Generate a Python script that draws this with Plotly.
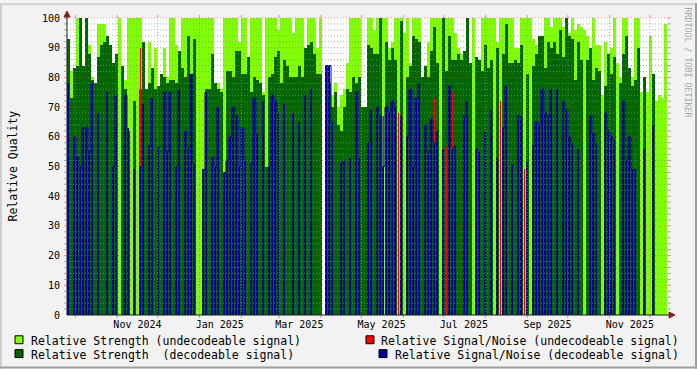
import plotly.graph_objects as go
import pandas as pd

# ---- data (one value per 3-px time bucket) ----
LG = [84,82,83,100,100,84,90,91,80,78,98,98,98,94,91,85,88,100,84,79,100,100,100,100,100,92,76,92,83,90,77,81,90,
      80,100,100,91,84,100,100,100,100,100,100,100,100,100,100,100,78,78,76,100,100,100,100,100,92,100,100,86,100,100,100,100,75,
      100,100,100,100,96,100,100,100,100,95,100,100,100,87,100,100,100,90,100,0,80,78,74,78,70,74,76,85,100,100,100,100,70,70,
      100,100,96,100,100,100,100,90,92,100,100,100,95,100,85,100,100,100,80,82,92,100,100,100,100,100,100,100,100,95,90,88,85,
      90,84,100,75,75,100,100,100,100,100,92,100,100,100,100,100,90,90,100,100,100,100,93,91,91,91,100,100,97,100,100,100,97,
      100,95,100,96,98,97,96,94,89,100,91,91,74,92,88,90,100,85,80,100,100,83,80,100,100,75,76,75,94,78,72,74,73,98]
DG = [93,73,83,84,100,84,100,88,79,78,87,91,92,94,91,85,88,0,84,76,62,0,72,0,76,92,76,78,83,76,77,81,80,
      78,79,79,78,89,83,80,94,81,93,0,0,49,76,76,88,78,76,75,48,82,82,80,89,89,81,81,87,75,80,79,78,74,
      50,80,81,87,89,78,86,84,80,80,80,84,80,90,91,92,88,81,81,0,84,78,70,75,64,62,70,76,75,80,78,80,70,70,
      91,90,88,88,100,0,92,86,90,86,0,99,0,80,84,94,93,92,80,84,80,89,97,85,0,100,82,94,86,86,88,86,89,
      100,85,0,87,86,82,91,83,86,0,90,0,88,98,85,85,86,85,91,0,81,0,84,88,94,94,83,92,90,92,88,96,87,
      100,94,93,79,92,86,0,86,90,79,83,82,0,77,88,81,87,0,78,88,94,83,77,79,90,0,80,0,0,81,0,0,0,0]
BL = [78,0,60,53,50,63,63,55,78,0,68,0,0,75,0,50,74,0,0,74,63,0,49,0,50,71,0,57,73,0,57,0,75,
      55,75,0,50,76,0,62,56,81,51,0,0,49,75,0,53,50,70,0,48,52,60,70,67,50,63,52,0,51,73,61,0,72,
      0,50,74,72,68,0,71,0,0,68,0,65,0,74,0,76,0,0,0,0,84,84,65,0,0,51,52,0,53,0,75,53,0,0,
      58,69,0,70,67,50,70,68,72,70,0,67,0,60,76,50,73,78,0,64,55,66,58,62,0,56,0,77,56,57,0,0,67,
      72,0,0,56,55,0,62,0,69,0,53,0,63,77,0,51,0,67,67,0,52,0,57,65,64,76,68,67,76,0,76,0,72,
      69,60,58,0,56,0,0,0,67,61,58,0,0,68,62,60,59,0,0,72,52,60,49,49,0,0,56,0,0,64,0,0,0,0]
RD_COLS = [24, 105, 110, 122, 126, 128, 144, 152, 189]
RD_VALS = [90, 67, 68, 73, 57, 75, 72, 49, 56]

X_TICK_TEXT = ["Nov 2024", "Jan 2025", "Mar 2025", "May 2025", "Jul 2025", "Sep 2025", "Nov 2025"]
X_TICK_DATES = ["2024-11-16", "2025-01-16", "2025-03-16", "2025-05-16", "2025-07-16", "2025-09-16", "2025-11-16"]
Y_TICKS = list(range(0, 101, 10))

# ---- geometry ----
W, H = 697, 369
L, R, T, B = 67, 668, 15, 315
PXD = 1.349                        # pixels per day
ANCHOR = pd.Timestamp("2025-01-01")  # at pixel 199.5
def px2date(px):
    return ANCHOR + pd.Timedelta(days=(px - 199.5) / PXD)
def xp(px):
    return (px - L) / (R - L)
def yp(py):
    return (B - py) / (B - T)

N = len(LG)
STEP = 3 / PXD
xs = [px2date(L + 3 * k + 1.5) for k in range(N)]
xedge = [px2date(L + 3 * k) for k in range(N)] + [px2date(L + 3 * N)]
DAY_MS = 86400000
col_w = STEP * DAY_MS
thin_w = (1.5 / PXD) * DAY_MS
red_w = (1.0 / PXD) * DAY_MS

RD = [0] * N
for c, v in zip(RD_COLS, RD_VALS):
    RD[c] = v

def nz(a):
    return [v if v else None for v in a]

fig = go.Figure()
fig.add_trace(go.Bar(x=xs, y=nz(LG), width=col_w, marker=dict(color="#80FF00", line=dict(width=0)),
                     showlegend=False, hoverinfo="skip"))
fig.add_trace(go.Bar(x=xs, y=nz(DG), width=col_w, marker=dict(color="#006600", line=dict(width=0)),
                     showlegend=False, hoverinfo="skip"))
fig.add_trace(go.Bar(x=xs, y=nz(RD), width=red_w, marker=dict(color="#FF0000", line=dict(width=0)),
                     showlegend=False, hoverinfo="skip"))
fig.add_trace(go.Bar(x=xs, y=nz(BL), width=thin_w, marker=dict(color="#000099", line=dict(width=0)),
                     showlegend=False, hoverinfo="skip"))
# blue signal/noise outline (step line across consecutive buckets)
bl_line = nz(BL) + [None]
fig.add_trace(go.Scatter(x=xedge, y=bl_line, mode="lines", line=dict(color="#000099", width=1, shape="hv"),
                         connectgaps=False, showlegend=False, hoverinfo="skip"))

shapes = []
GRID = "rgba(143,143,143,0.75)"
MGRID = "rgba(222,79,79,0.6)"
DASH = "1px,2px"
for v in range(2, 101, 2):
    major = (v % 10 == 0)
    c = MGRID if major else GRID
    y = v / 100
    shapes.append(dict(type="line", xref="paper", yref="paper", x0=0, x1=1, y0=y, y1=y,
                       line=dict(color=c, width=1, dash=DASH), layer="above"))
    shapes.append(dict(type="line", xref="paper", yref="paper", x0=xp(64), x1=xp(67), y0=y, y1=y,
                       line=dict(color=c, width=1), layer="above"))
    shapes.append(dict(type="line", xref="paper", yref="paper", x0=xp(668), x1=xp(671), y0=y, y1=y,
                       line=dict(color=c, width=1), layer="above"))
months = pd.date_range("2024-10-01", "2025-12-01", freq="MS")
for m in months:
    major = m.month in (1, 4, 7, 10)
    c = MGRID if major else GRID
    shapes.append(dict(type="line", xref="x", yref="paper", x0=m, x1=m, y0=0, y1=1,
                       line=dict(color=c, width=1, dash=DASH), layer="above"))
    shapes.append(dict(type="line", xref="x", yref="paper", x0=m, x1=m, y0=yp(318), y1=yp(315),
                       line=dict(color=c, width=1), layer="above"))
    shapes.append(dict(type="line", xref="x", yref="paper", x0=m, x1=m, y0=yp(15), y1=yp(12),
                       line=dict(color=c, width=1), layer="above"))
AXIS = "#1F1F1F"
ARROW = "#801F1F"
shapes.append(dict(type="line", xref="paper", yref="paper", x0=0, x1=xp(671), y0=0, y1=0,
                   line=dict(color=AXIS, width=1), layer="above"))
shapes.append(dict(type="line", xref="paper", yref="paper", x0=0, x1=0, y0=0, y1=yp(12),
                   line=dict(color=AXIS, width=1), layer="above"))
shapes.append(dict(type="path", xref="paper", yref="paper",
                   path=f"M {xp(669)} {yp(312)} L {xp(675)} {yp(315)} L {xp(669)} {yp(318)} Z",
                   fillcolor=ARROW, line=dict(color=ARROW, width=1), layer="above"))
shapes.append(dict(type="path", xref="paper", yref="paper",
                   path=f"M {xp(64)} {yp(14)} L {xp(67)} {yp(8)} L {xp(70)} {yp(14)} Z",
                   fillcolor=ARROW, line=dict(color=ARROW, width=1), layer="above"))
shapes.append(dict(type="rect", xref="paper", yref="paper", x0=xp(0), x1=xp(W), y0=yp(0), y1=yp(2),
                   fillcolor="#CFCFCF", line=dict(width=0), layer="above"))
shapes.append(dict(type="rect", xref="paper", yref="paper", x0=xp(0), x1=xp(2), y0=yp(0), y1=yp(H),
                   fillcolor="#CFCFCF", line=dict(width=0), layer="above"))
shapes.append(dict(type="rect", xref="paper", yref="paper", x0=xp(W - 2), x1=xp(W), y0=yp(0), y1=yp(H),
                   fillcolor="#9E9E9E", line=dict(width=0), layer="above"))
shapes.append(dict(type="rect", xref="paper", yref="paper", x0=xp(0), x1=xp(W), y0=yp(H - 2), y1=yp(H),
                   fillcolor="#9E9E9E", line=dict(width=0), layer="above"))

LEG = [("#80FF00", 15, 336, 30, 341, "Relative Strength (undecodeable signal)"),
       ("#006600", 15, 350, 30, 355, "Relative Strength  (decodeable signal)"),
       ("#FF0000", 366, 336, 380, 341, "Relative Signal/Noise (undecodeable signal)"),
       ("#000099", 379, 350, 394, 355, "Relative Signal/Noise (decodeable signal)")]
MONO = "DejaVu Sans Mono"
annotations = []
for col, bx, by, tx, ty, txt in LEG:
    shapes.append(dict(type="rect", xref="paper", yref="paper", x0=xp(bx), x1=xp(bx + 8),
                       y0=yp(by), y1=yp(by + 8), fillcolor=col,
                       line=dict(color="#000000", width=1), layer="above"))
    annotations.append(dict(text=txt.replace(" ", "&nbsp;"), xref="paper", yref="paper", x=xp(tx), y=yp(ty),
                            xanchor="left", yanchor="middle", showarrow=False, borderpad=0,
                            font=dict(family=MONO, size=11.5, color="#000000")))
annotations.append(dict(text="Relative Quality", xref="paper", yref="paper", x=xp(12), y=yp(165),
                        textangle=-90, showarrow=False, xanchor="center", yanchor="middle",
                        font=dict(family=MONO, size=11.5, color="#000000")))
annotations.append(dict(text="RRDTOOL / TOBI OETIKER", xref="paper", yref="paper", x=xp(688), y=yp(60),
                        textangle=90, showarrow=False, xanchor="center", yanchor="middle",
                        font=dict(family=MONO, size=8.3, color="#A8A8A8")))

fig.update_layout(
    width=W, height=H,
    margin=dict(l=L, r=W - R, t=T, b=H - B, pad=0),
    paper_bgcolor="#F2F2F2", plot_bgcolor="#FFFFFF",
    barmode="overlay", bargap=0,
    shapes=shapes, annotations=annotations,
    xaxis=dict(type="date", range=[px2date(L), px2date(R)], showgrid=False, zeroline=False,
               showline=False, ticks="", tickvals=X_TICK_DATES, ticktext=X_TICK_TEXT,
               tickfont=dict(family=MONO, size=10, color="#000000"), ticklabelstandoff=2,
               fixedrange=True),
    yaxis=dict(range=[0, 100], showgrid=False, zeroline=False, showline=False, ticks="",
               tickvals=Y_TICKS, tickfont=dict(family=MONO, size=10, color="#000000"),
               ticklabelstandoff=6, fixedrange=True),
)
fig.write_html("out.html")
